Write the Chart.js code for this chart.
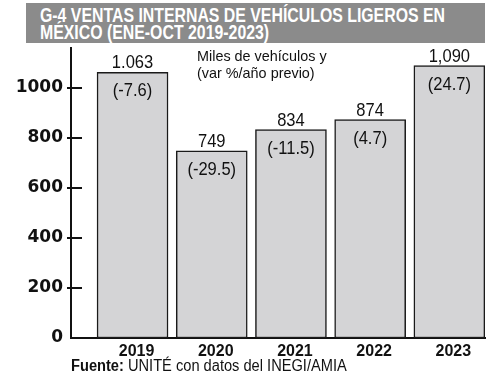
<!DOCTYPE html>
<html>
<head>
<meta charset="utf-8">
<script src="https://cdn.jsdelivr.net/npm/chart.js@4.4.0/dist/chart.umd.min.js"></script>
<style>
  html, body { margin: 0; padding: 0; background: #fff; }
  #wrap { position: relative; width: 500px; height: 378px; overflow: hidden; }
  #c { position: absolute; left: 0; top: 0; }
  #title { position: absolute; left: 26px; top: 3px; width: 459px; height: 40px; background: #8b8b8b; }
  #title div { position: absolute; left: 14px; color: #fff; font-family: "Liberation Sans", Arial, sans-serif; font-weight: bold; font-size: 20px; white-space: nowrap; transform-origin: 0 0; line-height: 1; }
  #t1 { top: 2px; }
  #t2 { top: 19px; }
  #src { position: absolute; left: 71px; top: 358px; font-family: "Liberation Sans", Arial, sans-serif; font-size: 16px; color: #111; white-space: nowrap; line-height: 1; transform-origin: 0 0; transform: scaleX(0.915); }
</style>
</head>
<body>
<div id="wrap">
  <canvas id="c" width="500" height="378"></canvas>
  <div id="title"><div id="t1">G-4 VENTAS INTERNAS DE VEHÍCULOS LIGEROS EN</div><div id="t2">MÉXICO (ENE-OCT 2019-2023)</div></div>
  <div id="src"><b>Fuente:</b> UNITÉ con datos del INEGI/AMIA</div>
</div>
<script>
const years = ['2019', '2020', '2021', '2022', '2023'];
const sales = [1063, 749, 834, 874, 1090];
const salesLabels = ['1.063', '749', '834', '874', '1,090'];
const changeLabels = ['(-7.6)', '(-29.5)', '(-11.5)', '(4.7)', '(24.7)'];
const yTicks = [0, 200, 400, 600, 800, 1000];
const noteLines = ['Miles de vehículos y', '(var %/año previo)'];

// condense title to the reference width
(function () {
  const t1 = document.getElementById('t1');
  const t2 = document.getElementById('t2');
  const k = 405 / t1.getBoundingClientRect().width;
  t1.style.transform = 'scaleX(' + k + ')';
  t2.style.transform = 'scaleX(' + k + ')';
})();

const FONT = '"Liberation Sans", Arial, sans-serif';

function condensedText(ctx, text, x, y, sx) {
  ctx.save();
  ctx.translate(x, y);
  ctx.scale(sx, 1);
  ctx.fillText(text, 0, 0);
  ctx.restore();
}

const labelPlugin = {
  id: 'barLabels',
  afterDatasetsDraw(chart) {
    const ctx = chart.ctx;
    const meta = chart.getDatasetMeta(0);
    ctx.save();
    ctx.fillStyle = '#111';
    ctx.textAlign = 'center';
    ctx.textBaseline = 'middle';
    ctx.font = '19px ' + FONT;
    meta.data.forEach((bar, i) => {
      condensedText(ctx, salesLabels[i], bar.x, bar.y - 9, 0.87);
      condensedText(ctx, changeLabels[i], bar.x, bar.y + 19, 0.87);
    });
    // y tick marks drawn inward
    const ys = chart.scales.y;
    const left = chart.chartArea.left;
    ctx.strokeStyle = '#111';
    ctx.lineWidth = 2;
    yTicks.forEach(v => {
      if (v === 0) return;
      const py = Math.round(ys.getPixelForValue(v));
      ctx.beginPath();
      ctx.moveTo(left - 4, py);
      ctx.lineTo(left + 11, py);
      ctx.stroke();
    });
    // note
    ctx.textAlign = 'left';
    ctx.font = '15px ' + FONT;
    condensedText(ctx, noteLines[0], 197, 57, 0.96);
    condensedText(ctx, noteLines[1], 197, 74, 0.96);
    ctx.restore();
  }
};

new Chart(document.getElementById('c'), {
  type: 'bar',
  data: {
    datasets: [{
      data: sales.map((v, i) => ({ x: i, y: v })),
      backgroundColor: '#d4d4d6',
      borderColor: '#1a1a1a',
      borderWidth: 1.5,
      borderSkipped: false,
      barThickness: 71
    }]
  },
  options: {
    responsive: false,
    animation: false,
    events: [],
    layout: { padding: { top: 48, right: 15, left: 0, bottom: 0 } },
    plugins: { legend: { display: false }, tooltip: { enabled: false }, title: { display: false } },
    scales: {
      x: {
        type: 'linear',
        offset: false,
        min: -0.777,
        max: 4.45,
        grid: { display: false, drawTicks: false },
        border: { display: true, color: '#111', width: 2 },
        afterBuildTicks: (s) => { s.ticks = years.map((_, i) => ({ value: i })); },
        afterFit: (s) => { s.height = 40; },
        ticks: {
          callback: (v) => years[v],
          font: { family: FONT, size: 16, weight: 'bold' },
          color: '#111',
          padding: 4,
          labelOffset: 4,
          maxRotation: 0,
          autoSkip: false
        }
      },
      y: {
        min: 0,
        max: 1160,
        grid: { display: false, drawTicks: false },
        border: { display: true, color: '#111', width: 2 },
        afterBuildTicks: (s) => { s.ticks = yTicks.map(v => ({ value: v })); },
        afterFit: (s) => { s.width = 71; },
        ticks: {
          callback: (v) => String(v),
          font: { family: '"DejaVu Sans", sans-serif', size: 17, weight: 'bold' },
          color: '#111',
          padding: 8
        }
      }
    }
  },
  plugins: [labelPlugin]
});
</script>
</body>
</html>
